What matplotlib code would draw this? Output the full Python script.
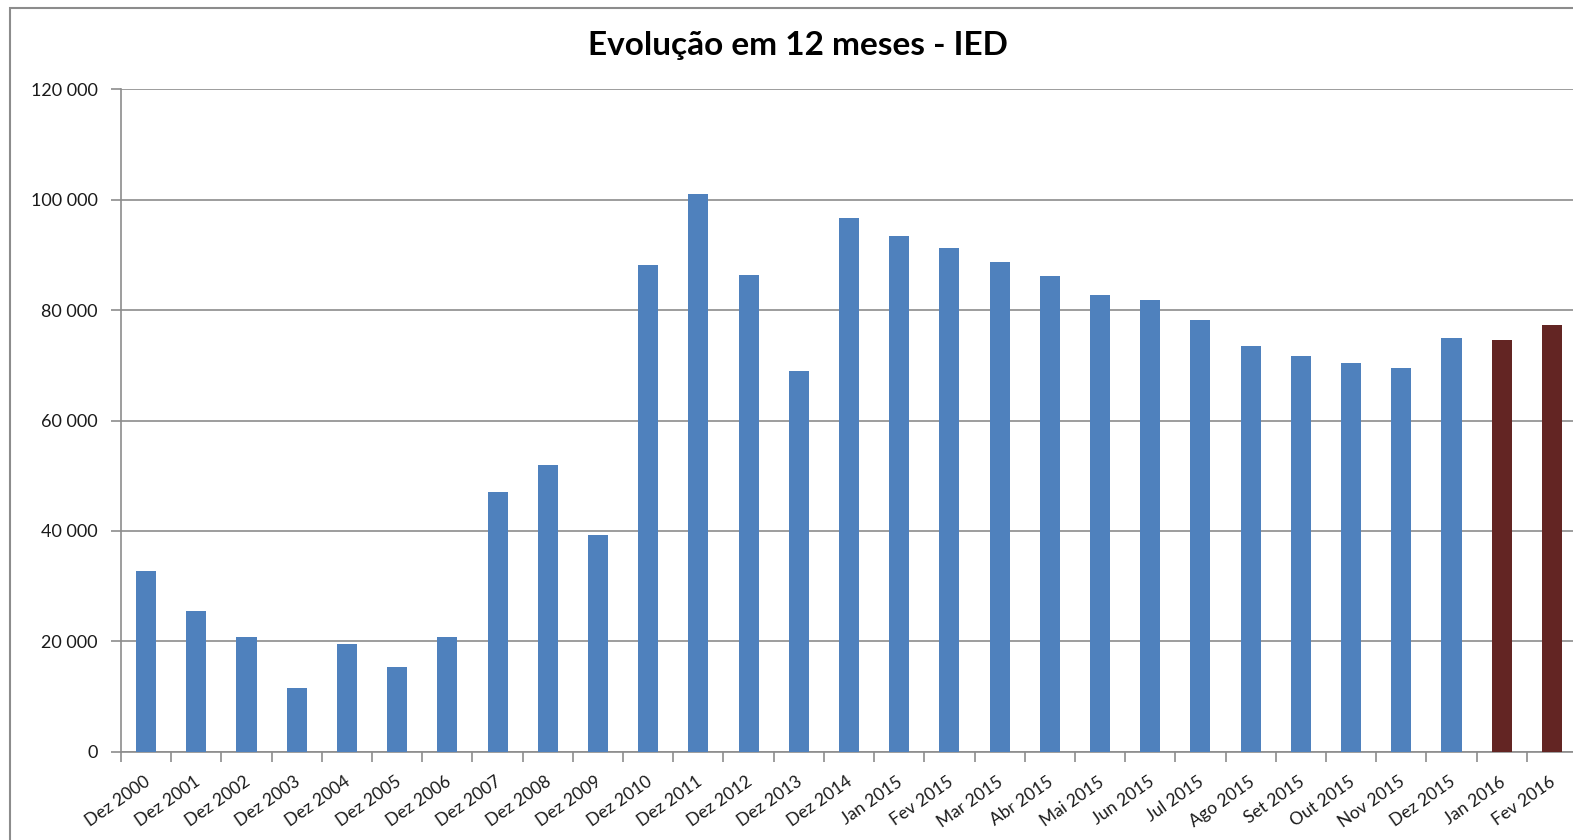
import matplotlib
matplotlib.use("Agg")
import matplotlib.pyplot as plt
from matplotlib.patches import Rectangle
from matplotlib.ticker import FuncFormatter, FixedLocator

categories = ["Dez 2000", "Dez 2001", "Dez 2002", "Dez 2003", "Dez 2004", "Dez 2005",
              "Dez 2006", "Dez 2007", "Dez 2008", "Dez 2009", "Dez 2010", "Dez 2011",
              "Dez 2012", "Dez 2013", "Dez 2014", "Jan 2015", "Fev 2015", "Mar 2015",
              "Abr 2015", "Mai 2015", "Jun 2015", "Jul 2015", "Ago 2015", "Set 2015",
              "Out 2015", "Nov 2015", "Dez 2015", "Jan 2016", "Fev 2016"]
values = [32800, 25500, 20700, 11500, 19500, 15300, 20700, 47100, 52000, 39300,
          88200, 101100, 86400, 68900, 96700, 93500, 91300, 88700, 86200, 82700,
          81800, 78200, 73500, 71600, 70500, 69600, 74900, 74500, 77300]
highlight = ["Jan 2016", "Fev 2016"]
yticks = [0, 20000, 40000, 60000, 80000, 100000, 120000]

BLUE = "#4F81BD"
RED = "#632523"
GRID = "#8C8C8C"
TXT = "#1a1a1a"
plt.rcParams['font.family'] = ['Lato', 'DejaVu Sans']

W, H = 1573, 840
fig = plt.figure(figsize=(W / 100, H / 100), dpi=100)
ax = fig.add_axes([121 / W, 1 - 751.7 / H, (1577 - 121) / W, (751.7 - 89.3) / H])

x = list(range(len(categories)))
colors = [RED if c in highlight else BLUE for c in categories]
ax.bar(x, values, width=0.4, color=colors, zorder=3)

ax.set_xlim(-0.5, len(categories) - 0.5)
ax.set_ylim(0, 120000)
ax.set_yticks(yticks)
ax.yaxis.set_major_formatter(FuncFormatter(lambda v, p: f"{int(v):,}".replace(",", " ")))
ax.grid(axis='y', color=GRID, linewidth=1.2, zorder=0)
ax.tick_params(axis='y', length=7, color=GRID, width=1.2, pad=10, labelsize=13, labelcolor=TXT)

ax.set_xticks(x)
ax.set_xticklabels([])
ax.tick_params(axis='x', which='major', length=0)
ax.xaxis.set_minor_locator(FixedLocator([i - 0.5 for i in range(len(categories) + 1)]))
ax.tick_params(axis='x', which='minor', length=7, color=GRID, width=1.2)
for xi, lab in zip(x, categories):
    ax.text(xi + 0.04, -0.043, lab, transform=ax.get_xaxis_transform(), rotation=35,
            ha='right', va='center', rotation_mode='anchor', fontsize=12.5, color=TXT)

for s in ['top', 'right']:
    ax.spines[s].set_visible(False)
for s in ['left', 'bottom']:
    ax.spines[s].set_color(GRID)
    ax.spines[s].set_linewidth(1.2)

fig.text(798 / W, 1 - 46 / H, "Evolução em 12 meses - IED", ha='center', va='center',
         fontsize=24, fontweight='bold', color='black')

fig.patches.append(Rectangle((10 / W, -0.1), 1.2, 1.1 - 8 / H, transform=fig.transFigure,
                             fill=False, edgecolor="#8C8C8C", linewidth=1.5))

fig.savefig("out.png", dpi=100)
